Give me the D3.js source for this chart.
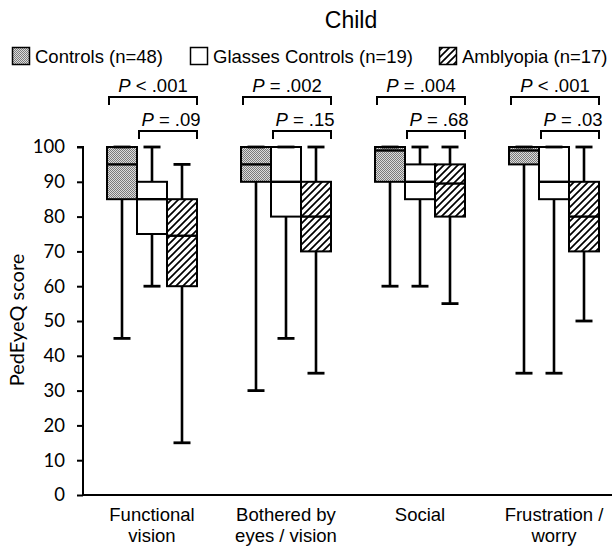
<!DOCTYPE html>
<html>
<head>
<meta charset="utf-8">
<script src="https://cdn.jsdelivr.net/npm/d3@7"></script>
<style>
  body { margin: 0; background: #fff; }
  svg { display: block; }
  text { font-family: "Liberation Sans", Arial, sans-serif; fill: #000; }
</style>
</head>
<body>
<div id="container"></div>
<script>
// chart data
const title = "Child";
const categories = [["Functional", "vision"], ["Bothered by", "eyes / vision"], ["Social"], ["Frustration /", "worry"]];
const series = ["Controls (n=48)", "Glasses Controls (n=19)", "Amblyopia (n=17)"];
const yTicks = [0, 10, 20, 30, 40, 50, 60, 70, 80, 90, 100];

// [min, q1, median, q3, max] per category
const controls = [[45, 85, 95, 100, 100], [30, 90, 95, 100, 100], [60, 90, 99, 100, 100], [35, 95, 99, 100, 100]];
const glasses = [[60, 75, 85, 90, 100], [45, 80, 90, 100, 100], [60, 85, 90, 95, 100], [35, 85, 90, 100, 100]];
const amblyopia = [[15, 60, 74.5, 85, 95], [35, 70, 80, 90, 100], [55, 80, 89.5, 95, 100], [50, 70, 80, 90, 100]];

const pAll = ["< .001", "= .002", "= .004", "< .001"];
const pAmbGlasses = ["= .09", "= .15", "= .68", "= .03"];

const width = 614, height = 548;
const fills = ["url(#stipple)", "#fff", "url(#hatch)"];

let svg = d3.select("#container").
  append("svg").
  attr("width", width).
  attr("height", height);

// patterns
let defs = svg.append("defs");
let stip = defs.append("pattern").
  attr("id", "stipple").
  attr("patternUnits", "userSpaceOnUse").
  attr("width", 2).attr("height", 2);
stip.append("rect").attr("width", 2).attr("height", 2).attr("fill", "#dcdcdc");
stip.append("rect").attr("width", 1).attr("height", 1).attr("fill", "#7a7a7a");
stip.append("rect").attr("x", 1).attr("y", 1).attr("width", 1).attr("height", 1).attr("fill", "#7a7a7a");

let hatch = defs.append("pattern").
  attr("id", "hatch").
  attr("patternUnits", "userSpaceOnUse").
  attr("width", 7).attr("height", 7);
hatch.append("rect").attr("width", 7).attr("height", 7).attr("fill", "#fff");
hatch.append("path").
  attr("d", "M0,7 L7,0 M-2,2 L2,-2 M5,9 L9,5").
  attr("stroke", "#000").
  attr("stroke-width", 1.7);

// scales
let x = d3.scaleBand().
  domain(d3.range(categories.length)).
  range([85, 621]);
let xs = d3.scaleBand().
  domain(d3.range(series.length)).
  range([-45, 45]);
let y = d3.scaleLinear().
  domain([0, 100]).
  range([495, 147]);

// title
svg.append("text").
  attr("x", 351).attr("y", 28).
  attr("text-anchor", "middle").
  style("font-size", "23px").
  text(title);

// legend
const legendX = [12, 190, 439];
let legend = svg.append("g").attr("id", "legend");
series.forEach((s, i) => {
  legend.append("rect").
    attr("x", legendX[i] + 0.5).attr("y", 47.5).
    attr("width", 17).attr("height", 17).
    attr("fill", fills[i]).
    attr("stroke", "#000").attr("stroke-width", 1.5);
  legend.append("text").
    attr("x", legendX[i] + 23).attr("y", 63).
    style("font-size", "18.5px").
    text(s);
});

// y axis
let yAxis = d3.axisLeft(y).
  tickValues(yTicks).
  tickSize(6).
  tickPadding(12).
  tickFormat(d3.format("d"));
let ya = svg.append("g").
  attr("transform", "translate(83,0)").
  call(yAxis);
ya.select(".domain").attr("stroke-width", 2).attr("d", "M-6," + y(100) + "H0V" + y(0));
ya.selectAll(".tick line").attr("stroke-width", 2);
ya.selectAll(".tick text").
  style("font-family", "Lato, sans-serif").
  style("font-size", "18.5px");

svg.append("text").
  attr("transform", "translate(24," + 320 + ") rotate(-90)").
  attr("text-anchor", "middle").
  style("font-family", "Lato, sans-serif").
  style("font-size", "20px").
  text("PedEyeQ score");

// x axis
svg.append("line").
  attr("x1", 82).attr("x2", 612).
  attr("y1", y(0)).attr("y2", y(0)).
  attr("stroke", "#000").attr("stroke-width", 2);

categories.forEach((lines, c) => {
  let t = svg.append("text").
    attr("text-anchor", "middle").
    attr("y", 521).
    style("font-size", "18.5px");
  lines.forEach((ln, k) => {
    t.append("tspan").
      attr("x", x(c) + x.bandwidth() / 2).
      attr("dy", k === 0 ? 0 : 21).
      text(ln);
  });
});

// boxes
const allSeries = [controls, glasses, amblyopia];
let boxW = xs.bandwidth();
let capW = 17;
allSeries.forEach((data, s) => {
  let g = svg.append("g").attr("class", "series-" + s);
  data.forEach((d, c) => {
    let cx = x(c) + x.bandwidth() / 2 + xs(s) + boxW / 2;
    let [mn, q1, md, q3, mx] = d;
    g.append("rect").
      attr("x", cx - boxW / 2).attr("y", y(q3)).
      attr("width", boxW).attr("height", y(q1) - y(q3)).
      attr("fill", fills[s]).
      attr("stroke", "#000").attr("stroke-width", 2);
    // whiskers
    g.append("line").
      attr("x1", cx).attr("x2", cx).
      attr("y1", y(q1)).attr("y2", y(mn)).
      attr("stroke", "#000").attr("stroke-width", 2.6);
    g.append("line").
      attr("x1", cx).attr("x2", cx).
      attr("y1", y(q3)).attr("y2", y(mx)).
      attr("stroke", "#000").attr("stroke-width", 2.6);
    [mn, mx].forEach(v => {
      g.append("line").
        attr("x1", cx - capW / 2).attr("x2", cx + capW / 2).
        attr("y1", y(v)).attr("y2", y(v)).
        attr("stroke", "#000").attr("stroke-width", 2.8);
    });
    g.append("line").
      attr("x1", cx - boxW / 2).attr("x2", cx + boxW / 2).
      attr("y1", y(md)).attr("y2", y(md)).
      attr("stroke", "#000").attr("stroke-width", 2.4);
  });
});

// significance brackets
function bracket(x1, x2, top, label, shift) {
  svg.append("path").
    attr("d", "M" + x1 + "," + (top + 8) + "V" + top + "H" + x2 + "V" + (top + 8)).
    attr("fill", "none").
    attr("stroke", "#000").attr("stroke-width", 2);
  let t = svg.append("text").
    attr("x", (x1 + x2) / 2 + shift).attr("y", top - 5).
    attr("text-anchor", "middle").
    style("font-size", "18.5px");
  t.append("tspan").style("font-style", "italic").text("P");
  t.append("tspan").text(" " + label);
}

categories.forEach((lines, c) => {
  let left = x(c) + x.bandwidth() / 2 + xs(0);
  let mid = x(c) + x.bandwidth() / 2 + xs(1);
  let right = x(c) + x.bandwidth() / 2 + xs(2) + boxW;
  bracket(left + 2, right, 97, pAll[c], 0);
  bracket(mid + 2, right, 131, pAmbGlasses[c], 3);
});
</script>
</body>
</html>
